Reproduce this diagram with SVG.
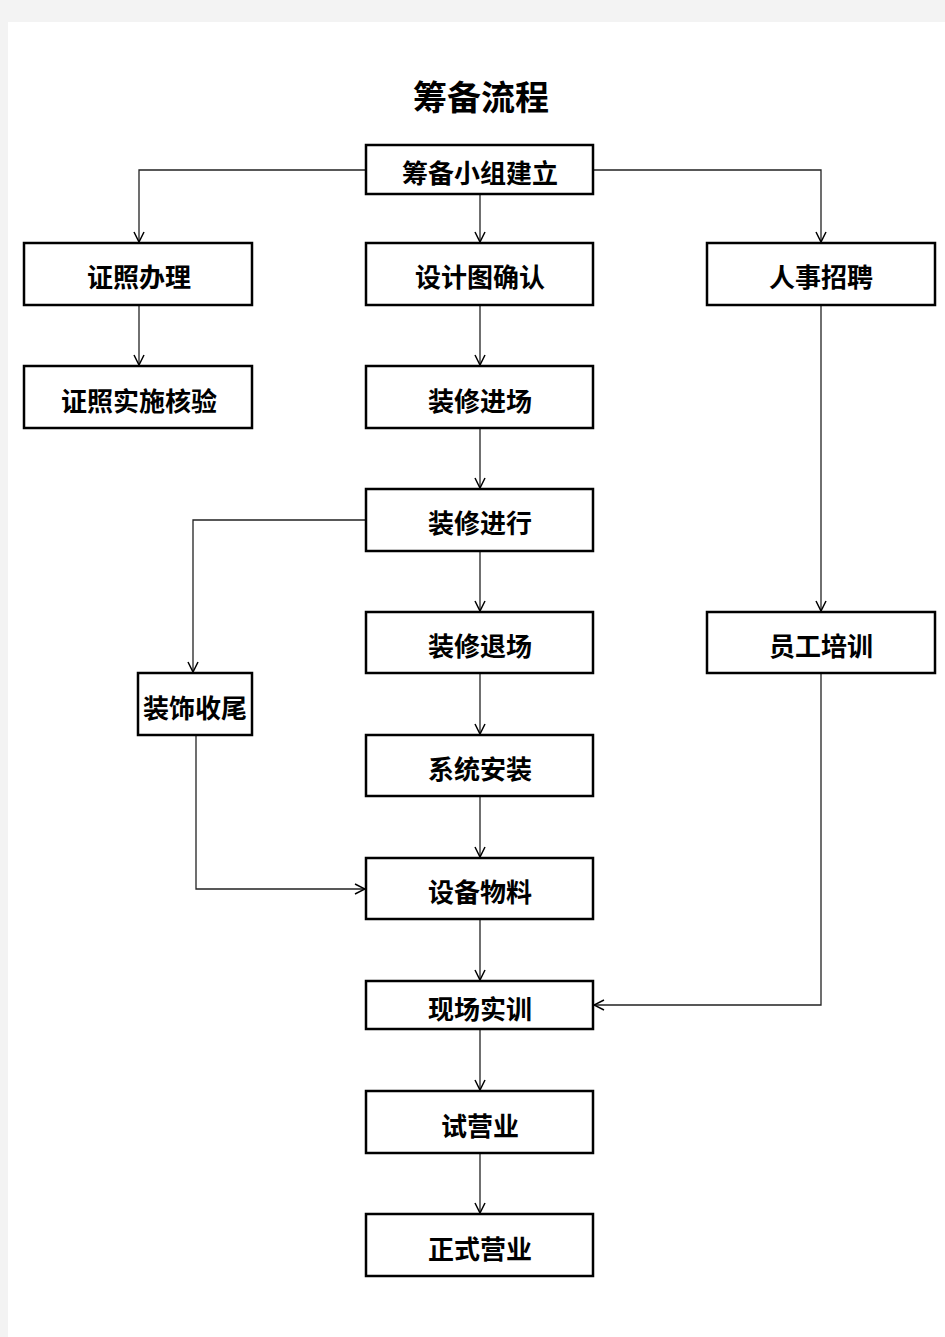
<svg xmlns="http://www.w3.org/2000/svg" width="945" height="1337" viewBox="0 0 945 1337">
<defs>
<style>
.box{fill:#fff;stroke:#000;stroke-width:2.5}
.t{font-family:"Noto Sans CJK SC","Noto Sans CJK JP",sans-serif;font-size:26px;font-weight:bold;fill:#000;text-anchor:middle;dominant-baseline:central}
.title{font-family:"Noto Sans CJK SC","Noto Sans CJK JP",sans-serif;font-size:34px;font-weight:bold;fill:#000;text-anchor:middle;dominant-baseline:central}
.c{fill:none;stroke:#222;stroke-width:1.3}
</style>
<marker id="a" viewBox="0 0 12 12" refX="11" refY="6" markerWidth="12" markerHeight="12" markerUnits="userSpaceOnUse" orient="auto">
<path d="M1,1 L11,6 L1,11" fill="none" stroke="#000" stroke-width="1.5"/>
</marker>
</defs>
<rect x="0" y="0" width="945" height="1337" fill="#f3f3f3"/>
<rect x="8" y="22" width="937" height="1315" fill="#fff"/>
<text class="title" x="481" y="95">筹备流程</text>
<g id="connectors">
<path class="c" d="M366,170 H139 V242" marker-end="url(#a)"/>
<path class="c" d="M593,170 H821 V242" marker-end="url(#a)"/>
<path class="c" d="M480,194 V242" marker-end="url(#a)"/>
<path class="c" d="M139,305 V365" marker-end="url(#a)"/>
<path class="c" d="M480,305 V365" marker-end="url(#a)"/>
<path class="c" d="M480,428 V488" marker-end="url(#a)"/>
<path class="c" d="M366,520 H193 V672" marker-end="url(#a)"/>
<path class="c" d="M480,551 V611" marker-end="url(#a)"/>
<path class="c" d="M821,305 V611" marker-end="url(#a)"/>
<path class="c" d="M480,673 V734" marker-end="url(#a)"/>
<path class="c" d="M480,796 V857" marker-end="url(#a)"/>
<path class="c" d="M196,735 V889 H365" marker-end="url(#a)"/>
<path class="c" d="M480,919 V980" marker-end="url(#a)"/>
<path class="c" d="M821,673 V1005 H594" marker-end="url(#a)"/>
<path class="c" d="M480,1029 V1090" marker-end="url(#a)"/>
<path class="c" d="M480,1153 V1213" marker-end="url(#a)"/>
</g>
<g id="n1"><rect class="box" x="366" y="145" width="227" height="49"/><text class="t" x="480" y="171">筹备小组建立</text></g>
<g id="n2"><rect class="box" x="24" y="243" width="228" height="62"/><text class="t" x="139" y="275">证照办理</text></g>
<g id="n3"><rect class="box" x="366" y="243" width="227" height="62"/><text class="t" x="480" y="275">设计图确认</text></g>
<g id="n4"><rect class="box" x="707" y="243" width="228" height="62"/><text class="t" x="821" y="275">人事招聘</text></g>
<g id="n5"><rect class="box" x="24" y="366" width="228" height="62"/><text class="t" x="139" y="399">证照实施核验</text></g>
<g id="n6"><rect class="box" x="366" y="366" width="227" height="62"/><text class="t" x="480" y="399">装修进场</text></g>
<g id="n7"><rect class="box" x="366" y="489" width="227" height="62"/><text class="t" x="480" y="521">装修进行</text></g>
<g id="n8"><rect class="box" x="366" y="612" width="227" height="61"/><text class="t" x="480" y="644">装修退场</text></g>
<g id="n9"><rect class="box" x="707" y="612" width="228" height="61"/><text class="t" x="821" y="644">员工培训</text></g>
<g id="n10"><rect class="box" x="138" y="673" width="114" height="62"/><text class="t" x="195" y="706">装饰收尾</text></g>
<g id="n11"><rect class="box" x="366" y="735" width="227" height="61"/><text class="t" x="480" y="767">系统安装</text></g>
<g id="n12"><rect class="box" x="366" y="858" width="227" height="61"/><text class="t" x="480" y="890">设备物料</text></g>
<g id="n13"><rect class="box" x="366" y="981" width="227" height="48"/><text class="t" x="480" y="1007">现场实训</text></g>
<g id="n14"><rect class="box" x="366" y="1091" width="227" height="62"/><text class="t" x="480" y="1124">试营业</text></g>
<g id="n15"><rect class="box" x="366" y="1214" width="227" height="62"/><text class="t" x="480" y="1247">正式营业</text></g>
</svg>
